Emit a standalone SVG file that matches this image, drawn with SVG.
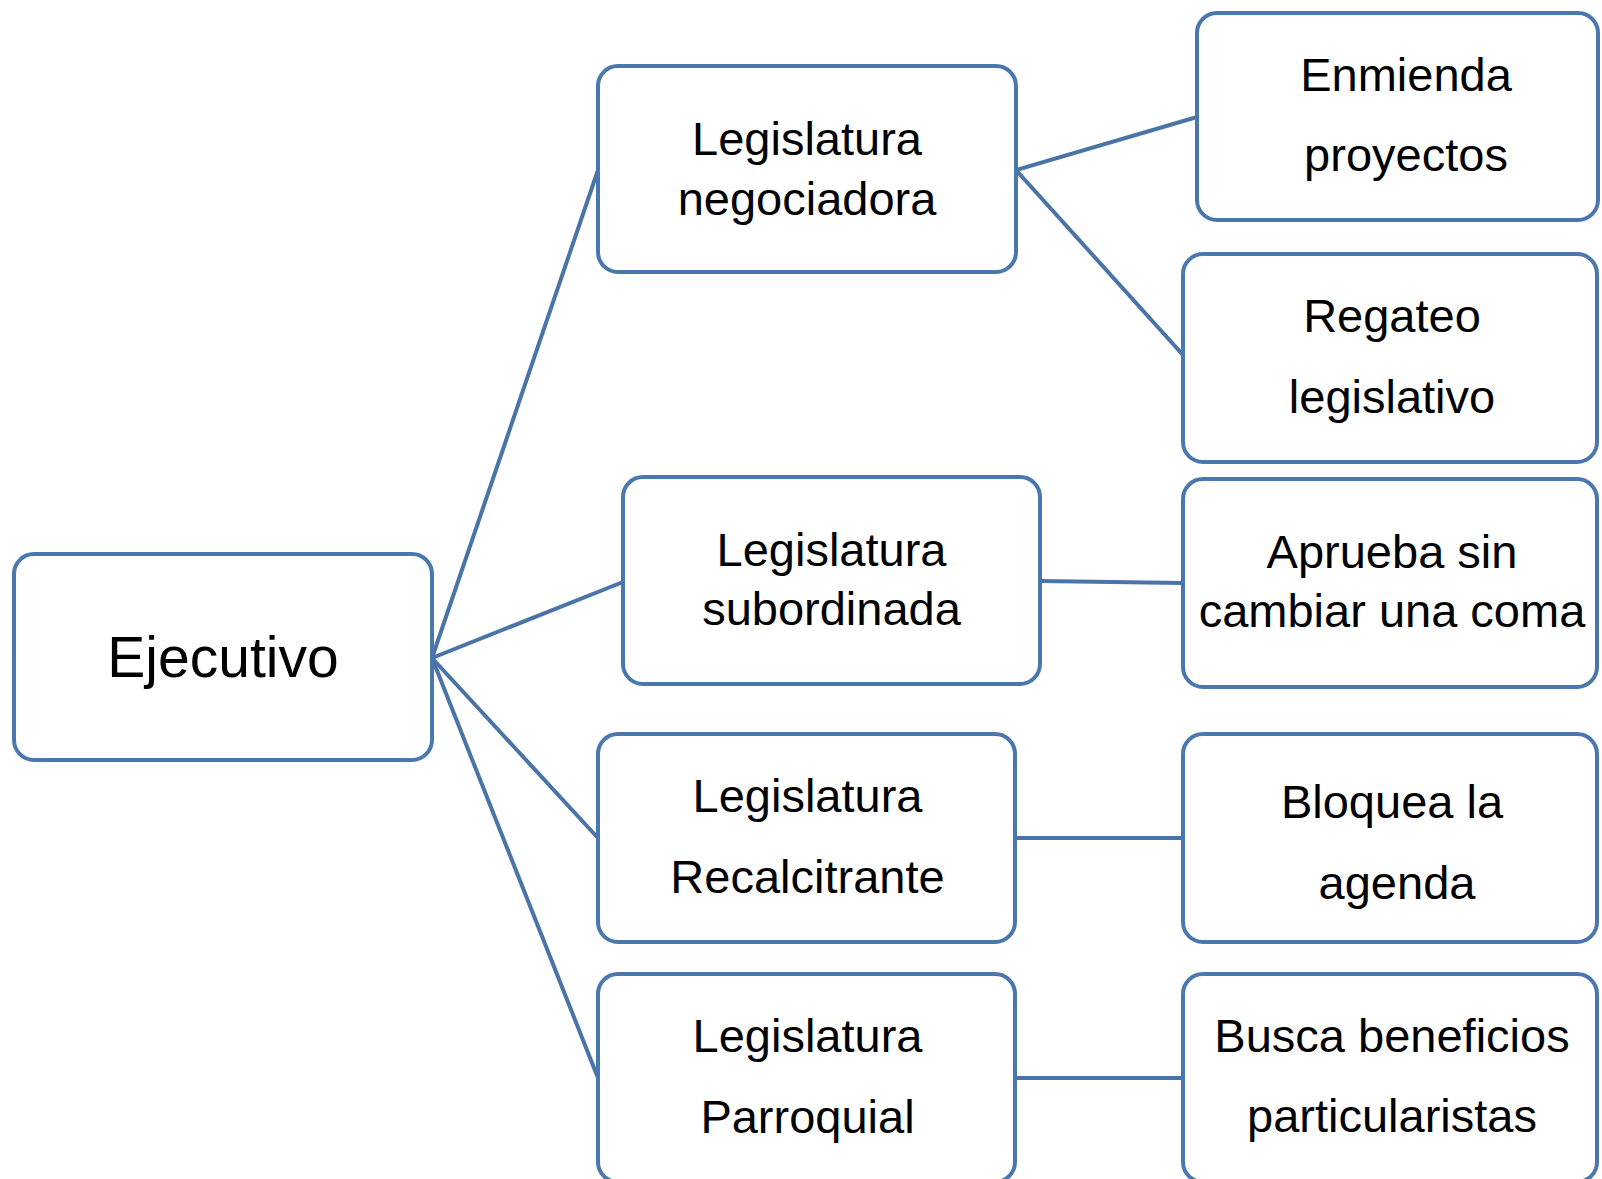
<svg xmlns="http://www.w3.org/2000/svg" width="1602" height="1179" viewBox="0 0 1602 1179">
<style>
.box{fill:#ffffff;stroke:#4a77ad;stroke-width:4}
.conn line{stroke:#4a74a8;stroke-width:4;stroke-linecap:round}
text{font-family:"Liberation Sans",Arial,sans-serif;font-size:47px;fill:#000000;text-anchor:middle}
.big{font-size:57px}
</style>
<rect width="1602" height="1179" fill="#ffffff"/>
<g id="connectors" class="conn">
<line x1="432" y1="658" x2="598" y2="170"/>
<line x1="432" y1="658" x2="623" y2="582"/>
<line x1="432" y1="658" x2="598" y2="838"/>
<line x1="432" y1="658" x2="598" y2="1078"/>
<line x1="1016" y1="170" x2="1197" y2="117"/>
<line x1="1016" y1="170" x2="1183" y2="355"/>
<line x1="1040" y1="581" x2="1183" y2="583"/>
<line x1="1015" y1="838" x2="1183" y2="838"/>
<line x1="1015" y1="1078" x2="1183" y2="1078"/>
</g>
<g id="ejecutivo">
<rect class="box" x="14" y="554" width="418" height="206" rx="20"/>
<text class="big" x="223" y="677">Ejecutivo</text>
</g>
<g id="negociadora">
<rect class="box" x="598" y="66" width="418" height="206" rx="20"/>
<text x="807" y="155">Legislatura</text>
<text x="807" y="215">negociadora</text>
</g>
<g id="subordinada">
<rect class="box" x="623" y="477" width="417" height="207" rx="20"/>
<text x="831.5" y="566">Legislatura</text>
<text x="831.5" y="625">subordinada</text>
</g>
<g id="recalcitrante">
<rect class="box" x="598" y="734" width="417" height="208" rx="20"/>
<text x="807.5" y="812">Legislatura</text>
<text x="807.5" y="893">Recalcitrante</text>
</g>
<g id="parroquial">
<rect class="box" x="598" y="974" width="417" height="208" rx="20"/>
<text x="807.5" y="1052">Legislatura</text>
<text x="807.5" y="1133">Parroquial</text>
</g>
<g id="enmienda">
<rect class="box" x="1197" y="13" width="401" height="207" rx="20"/>
<text x="1406" y="91">Enmienda</text>
<text x="1406" y="171">proyectos</text>
</g>
<g id="regateo">
<rect class="box" x="1183" y="254" width="414" height="208" rx="20"/>
<text x="1392" y="332">Regateo</text>
<text x="1392" y="413">legislativo</text>
</g>
<g id="aprueba">
<rect class="box" x="1183" y="479" width="414" height="208" rx="20"/>
<text x="1392" y="568">Aprueba sin</text>
<text x="1392" y="627">cambiar una coma</text>
</g>
<g id="bloquea">
<rect class="box" x="1183" y="734" width="414" height="208" rx="20"/>
<text x="1392" y="818">Bloquea la</text>
<text x="1397" y="899">agenda</text>
</g>
<g id="busca">
<rect class="box" x="1183" y="974" width="414" height="208" rx="20"/>
<text x="1392" y="1052">Busca beneficios</text>
<text x="1392" y="1132">particularistas</text>
</g>
</svg>
